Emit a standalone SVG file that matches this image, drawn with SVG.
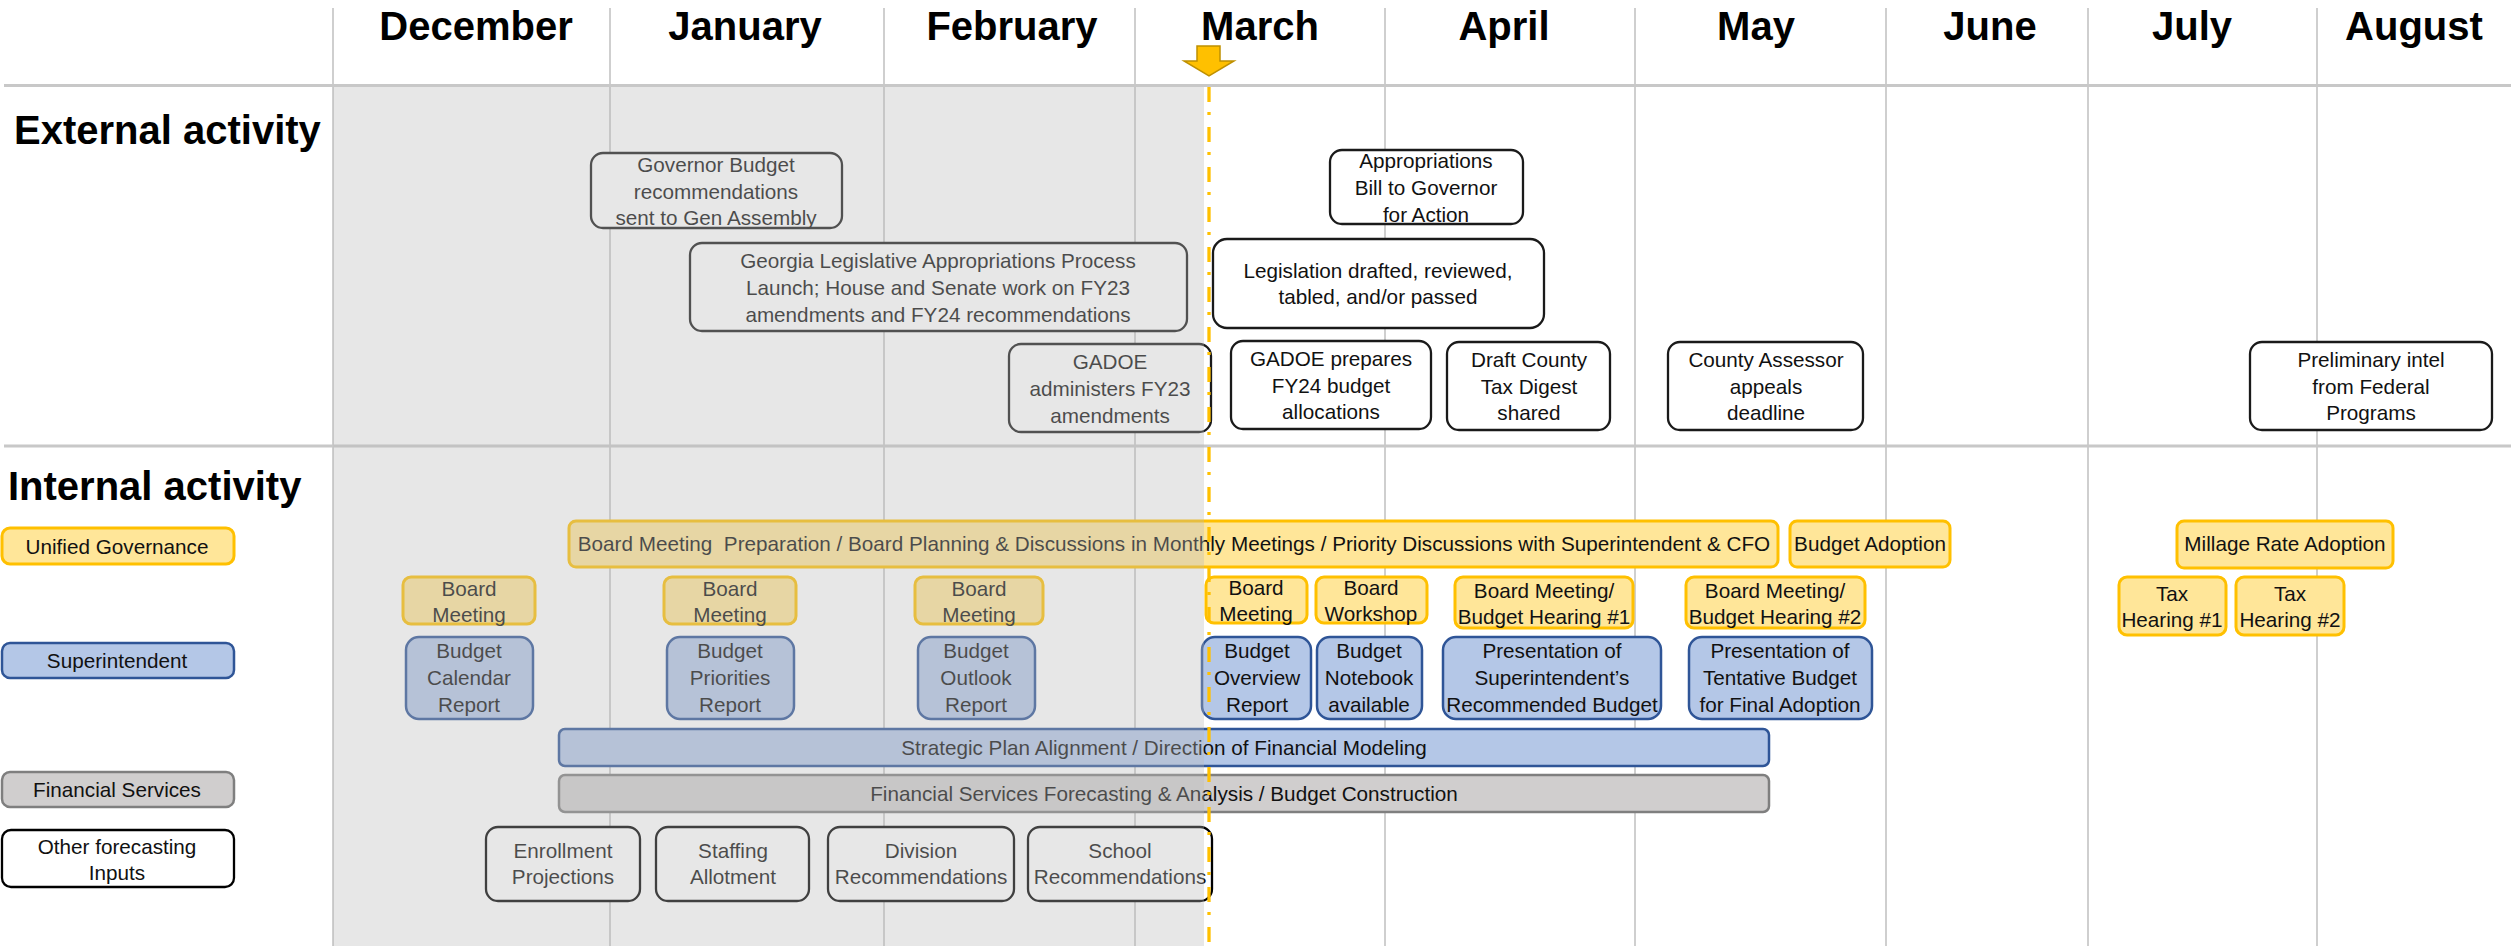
<svg xmlns="http://www.w3.org/2000/svg" width="2511" height="946" viewBox="0 0 2511 946">
<style>
.t{font-family:"Liberation Sans",Arial,sans-serif;font-size:20.7px;fill:#111;text-anchor:middle}
.month{font-family:"Liberation Sans",Arial,sans-serif;font-weight:bold;font-size:40px;fill:#000;text-anchor:middle}
.sec{font-family:"Liberation Sans",Arial,sans-serif;font-weight:bold;font-size:40px;fill:#000}
.grid{stroke:#bfbfbf;stroke-width:1.5}
.sep{stroke:#c8c8c8;stroke-width:3}
.ext{fill:#fff;stroke:#1a1a1a;stroke-width:2.3}
.yel{fill:#FFE699;stroke:#FFC000;stroke-width:3}
.blu{fill:#B4C7E7;stroke:#2F5597;stroke-width:2.5}
.gry{fill:#D0CECE;stroke:#7F7F7F;stroke-width:2.5}
.oth{fill:#fff;stroke:#000;stroke-width:2.3}
</style>
<rect x="0" y="0" width="2511" height="946" fill="#fff"/>
<g id="grid">
<line class="grid" x1="333" y1="8" x2="333" y2="946"/>
<line class="grid" x1="610" y1="8" x2="610" y2="946"/>
<line class="grid" x1="884" y1="8" x2="884" y2="946"/>
<line class="grid" x1="1135" y1="8" x2="1135" y2="946"/>
<line class="grid" x1="1385" y1="8" x2="1385" y2="946"/>
<line class="grid" x1="1635" y1="8" x2="1635" y2="946"/>
<line class="grid" x1="1886" y1="8" x2="1886" y2="946"/>
<line class="grid" x1="2088" y1="8" x2="2088" y2="946"/>
<line class="grid" x1="2317" y1="8" x2="2317" y2="946"/>
<line class="sep" x1="4" y1="85.5" x2="2511" y2="85.5"/>
<line class="sep" x1="4" y1="446" x2="2511" y2="446"/>
</g>
<g id="months">
<text class="month" x="476" y="40">December</text>
<text class="month" x="745" y="40">January</text>
<text class="month" x="1012" y="40">February</text>
<text class="month" x="1260" y="40">March</text>
<text class="month" x="1504" y="40">April</text>
<text class="month" x="1756" y="40">May</text>
<text class="month" x="1990" y="40">June</text>
<text class="month" x="2192" y="40">July</text>
<text class="month" x="2414" y="40">August</text>
</g>
<text class="sec" x="14" y="144" font-size="39">External activity</text>
<text class="sec" x="8" y="500">Internal activity</text>

<g id="ext-governor"><rect class="ext" x="591" y="153" width="251" height="75" rx="12"/><text class="t"><tspan x="716" y="172">Governor Budget</tspan><tspan x="716" y="198.5">recommendations</tspan><tspan x="716" y="225">sent to Gen Assembly</tspan></text></g>
<g id="ext-georgia"><rect class="ext" x="690" y="243" width="497" height="88" rx="12"/><text class="t"><tspan x="938" y="268">Georgia Legislative Appropriations Process</tspan><tspan x="938" y="295">Launch; House and Senate work on FY23</tspan><tspan x="938" y="322">amendments and FY24 recommendations</tspan></text></g>
<g id="ext-gadoe-fy23"><rect class="ext" x="1009" y="344" width="202" height="88" rx="12"/><text class="t"><tspan x="1110" y="369">GADOE</tspan><tspan x="1110" y="396">administers FY23</tspan><tspan x="1110" y="423">amendments</tspan></text></g>
<g id="ext-appropriations"><rect class="ext" x="1330" y="150" width="193" height="74" rx="12"/><text class="t"><tspan x="1426" y="168">Appropriations</tspan><tspan x="1426" y="195">Bill to Governor</tspan><tspan x="1426" y="222">for Action</tspan></text></g>
<g id="ext-legislation"><rect class="ext" x="1213" y="239" width="331" height="89" rx="14"/><text class="t"><tspan x="1378" y="278">Legislation drafted, reviewed,</tspan><tspan x="1378" y="304">tabled, and/or passed</tspan></text></g>
<g id="ext-gadoe-fy24"><rect class="ext" x="1231" y="341" width="200" height="88" rx="12"/><text class="t"><tspan x="1331" y="366">GADOE prepares</tspan><tspan x="1331" y="393">FY24 budget</tspan><tspan x="1331" y="419">allocations</tspan></text></g>
<g id="ext-digest"><rect class="ext" x="1447" y="342" width="163" height="88" rx="12"/><text class="t"><tspan x="1529" y="367">Draft County</tspan><tspan x="1529" y="394">Tax Digest</tspan><tspan x="1529" y="420">shared</tspan></text></g>
<g id="ext-assessor"><rect class="ext" x="1668" y="342" width="195" height="88" rx="12"/><text class="t"><tspan x="1766" y="367">County Assessor</tspan><tspan x="1766" y="394">appeals</tspan><tspan x="1766" y="420">deadline</tspan></text></g>
<g id="ext-federal"><rect class="ext" x="2250" y="342" width="242" height="88" rx="12"/><text class="t"><tspan x="2371" y="367">Preliminary intel</tspan><tspan x="2371" y="394">from Federal</tspan><tspan x="2371" y="420">Programs</tspan></text></g>

<g id="legend-unified"><rect class="yel" x="2" y="528" width="232" height="36" rx="8"/><text class="t" x="117" y="554">Unified Governance</text></g>
<g id="legend-superintendent"><rect class="blu" x="2" y="643" width="232" height="35" rx="8"/><text class="t" x="117" y="668">Superintendent</text></g>
<g id="legend-financial"><rect class="gry" x="2" y="772" width="232" height="35" rx="8"/><text class="t" x="117" y="797">Financial Services</text></g>
<g id="legend-other"><rect class="oth" x="2" y="830" width="232" height="57" rx="9"/><text class="t"><tspan x="117" y="854">Other forecasting</tspan><tspan x="117" y="880">Inputs</tspan></text></g>

<g id="ug-board-planning"><rect class="yel" x="569" y="521" width="1209" height="46" rx="7"/><text class="t" x="1174" y="551" xml:space="preserve">Board Meeting  Preparation / Board Planning &amp; Discussions in Monthly Meetings / Priority Discussions with Superintendent &amp; CFO</text></g>
<g id="ug-budget-adoption"><rect class="yel" x="1790" y="521" width="160" height="46" rx="7"/><text class="t" x="1870" y="551">Budget Adoption</text></g>
<g id="ug-millage"><rect class="yel" x="2177" y="521" width="216" height="47" rx="7"/><text class="t" x="2285" y="551">Millage Rate Adoption</text></g>
<g id="ug-board-dec"><rect class="yel" x="403" y="577" width="132" height="47" rx="8"/><text class="t"><tspan x="469" y="596">Board</tspan><tspan x="469" y="622">Meeting</tspan></text></g>
<g id="ug-board-jan"><rect class="yel" x="664" y="577" width="132" height="47" rx="8"/><text class="t"><tspan x="730" y="596">Board</tspan><tspan x="730" y="622">Meeting</tspan></text></g>
<g id="ug-board-feb"><rect class="yel" x="915" y="577" width="128" height="47" rx="8"/><text class="t"><tspan x="979" y="596">Board</tspan><tspan x="979" y="622">Meeting</tspan></text></g>
<g id="ug-board-mar"><rect class="yel" x="1206" y="577" width="101" height="46" rx="8"/><text class="t"><tspan x="1256" y="595">Board</tspan><tspan x="1256" y="621">Meeting</tspan></text></g>
<g id="ug-workshop"><rect class="yel" x="1316" y="577" width="111" height="46" rx="8"/><text class="t"><tspan x="1371" y="595">Board</tspan><tspan x="1371" y="621">Workshop</tspan></text></g>
<g id="ug-hearing1"><rect class="yel" x="1455" y="577" width="178" height="51" rx="8"/><text class="t"><tspan x="1544" y="598">Board Meeting/</tspan><tspan x="1544" y="624">Budget Hearing #1</tspan></text></g>
<g id="ug-hearing2"><rect class="yel" x="1686" y="577" width="179" height="51" rx="8"/><text class="t"><tspan x="1775" y="598">Board Meeting/</tspan><tspan x="1775" y="624">Budget Hearing #2</tspan></text></g>
<g id="ug-tax1"><rect class="yel" x="2119" y="577" width="107" height="58" rx="8"/><text class="t"><tspan x="2172" y="601">Tax</tspan><tspan x="2172" y="627">Hearing #1</tspan></text></g>
<g id="ug-tax2"><rect class="yel" x="2236" y="577" width="108" height="58" rx="8"/><text class="t"><tspan x="2290" y="601">Tax</tspan><tspan x="2290" y="627">Hearing #2</tspan></text></g>

<g id="si-calendar"><rect class="blu" x="406" y="637" width="127" height="82" rx="13"/><text class="t"><tspan x="469" y="658">Budget</tspan><tspan x="469" y="685">Calendar</tspan><tspan x="469" y="712">Report</tspan></text></g>
<g id="si-priorities"><rect class="blu" x="667" y="637" width="127" height="82" rx="13"/><text class="t"><tspan x="730" y="658">Budget</tspan><tspan x="730" y="685">Priorities</tspan><tspan x="730" y="712">Report</tspan></text></g>
<g id="si-outlook"><rect class="blu" x="918" y="637" width="117" height="82" rx="13"/><text class="t"><tspan x="976" y="658">Budget</tspan><tspan x="976" y="685">Outlook</tspan><tspan x="976" y="712">Report</tspan></text></g>
<g id="si-overview"><rect class="blu" x="1202" y="637" width="109" height="82" rx="13"/><text class="t"><tspan x="1257" y="658">Budget</tspan><tspan x="1257" y="685">Overview</tspan><tspan x="1257" y="712">Report</tspan></text></g>
<g id="si-notebook"><rect class="blu" x="1317" y="637" width="105" height="82" rx="13"/><text class="t"><tspan x="1369" y="658">Budget</tspan><tspan x="1369" y="685">Notebook</tspan><tspan x="1369" y="712">available</tspan></text></g>
<g id="si-recommended"><rect class="blu" x="1443" y="637" width="218" height="82" rx="13"/><text class="t"><tspan x="1552" y="658">Presentation of</tspan><tspan x="1552" y="685">Superintendent’s</tspan><tspan x="1552" y="712">Recommended Budget</tspan></text></g>
<g id="si-tentative"><rect class="blu" x="1689" y="637" width="183" height="82" rx="13"/><text class="t"><tspan x="1780" y="658">Presentation of</tspan><tspan x="1780" y="685">Tentative Budget</tspan><tspan x="1780" y="712">for Final Adoption</tspan></text></g>

<g id="si-strategic"><rect class="blu" x="559" y="729" width="1210" height="37" rx="6"/><text class="t" x="1164" y="755">Strategic Plan Alignment / Direction of Financial Modeling</text></g>
<g id="fs-forecasting"><rect class="gry" x="559" y="775" width="1210" height="37" rx="6"/><text class="t" x="1164" y="801">Financial Services Forecasting &amp; Analysis / Budget Construction</text></g>

<g id="in-enrollment"><rect class="oth" x="486" y="827" width="154" height="74" rx="12"/><text class="t"><tspan x="563" y="858">Enrollment</tspan><tspan x="563" y="884">Projections</tspan></text></g>
<g id="in-staffing"><rect class="oth" x="656" y="827" width="153" height="74" rx="12"/><text class="t"><tspan x="733" y="858">Staffing</tspan><tspan x="733" y="884">Allotment</tspan></text></g>
<g id="in-division"><rect class="oth" x="828" y="827" width="186" height="74" rx="12"/><text class="t"><tspan x="921" y="858">Division</tspan><tspan x="921" y="884">Recommendations</tspan></text></g>
<g id="in-school"><rect class="oth" x="1028" y="827" width="184" height="74" rx="12"/><text class="t"><tspan x="1120" y="858">School</tspan><tspan x="1120" y="884">Recommendations</tspan></text></g>

<rect id="past-shade" x="333" y="87" width="871" height="859" fill="#BABABA" fill-opacity="0.345"/>
<g id="connectors"></g>
<g id="today-marker">
<line x1="1209" y1="87" x2="1209" y2="946" stroke="#FFC000" stroke-width="3.3" stroke-dasharray="15 10 3 12"/>
<polygon points="1197,46 1220,46 1220,61 1234,61 1209,76 1184,61 1197,61" fill="#FFC000" stroke="#BF9000" stroke-width="1.5" stroke-linejoin="miter"/>
</g>
</svg>
